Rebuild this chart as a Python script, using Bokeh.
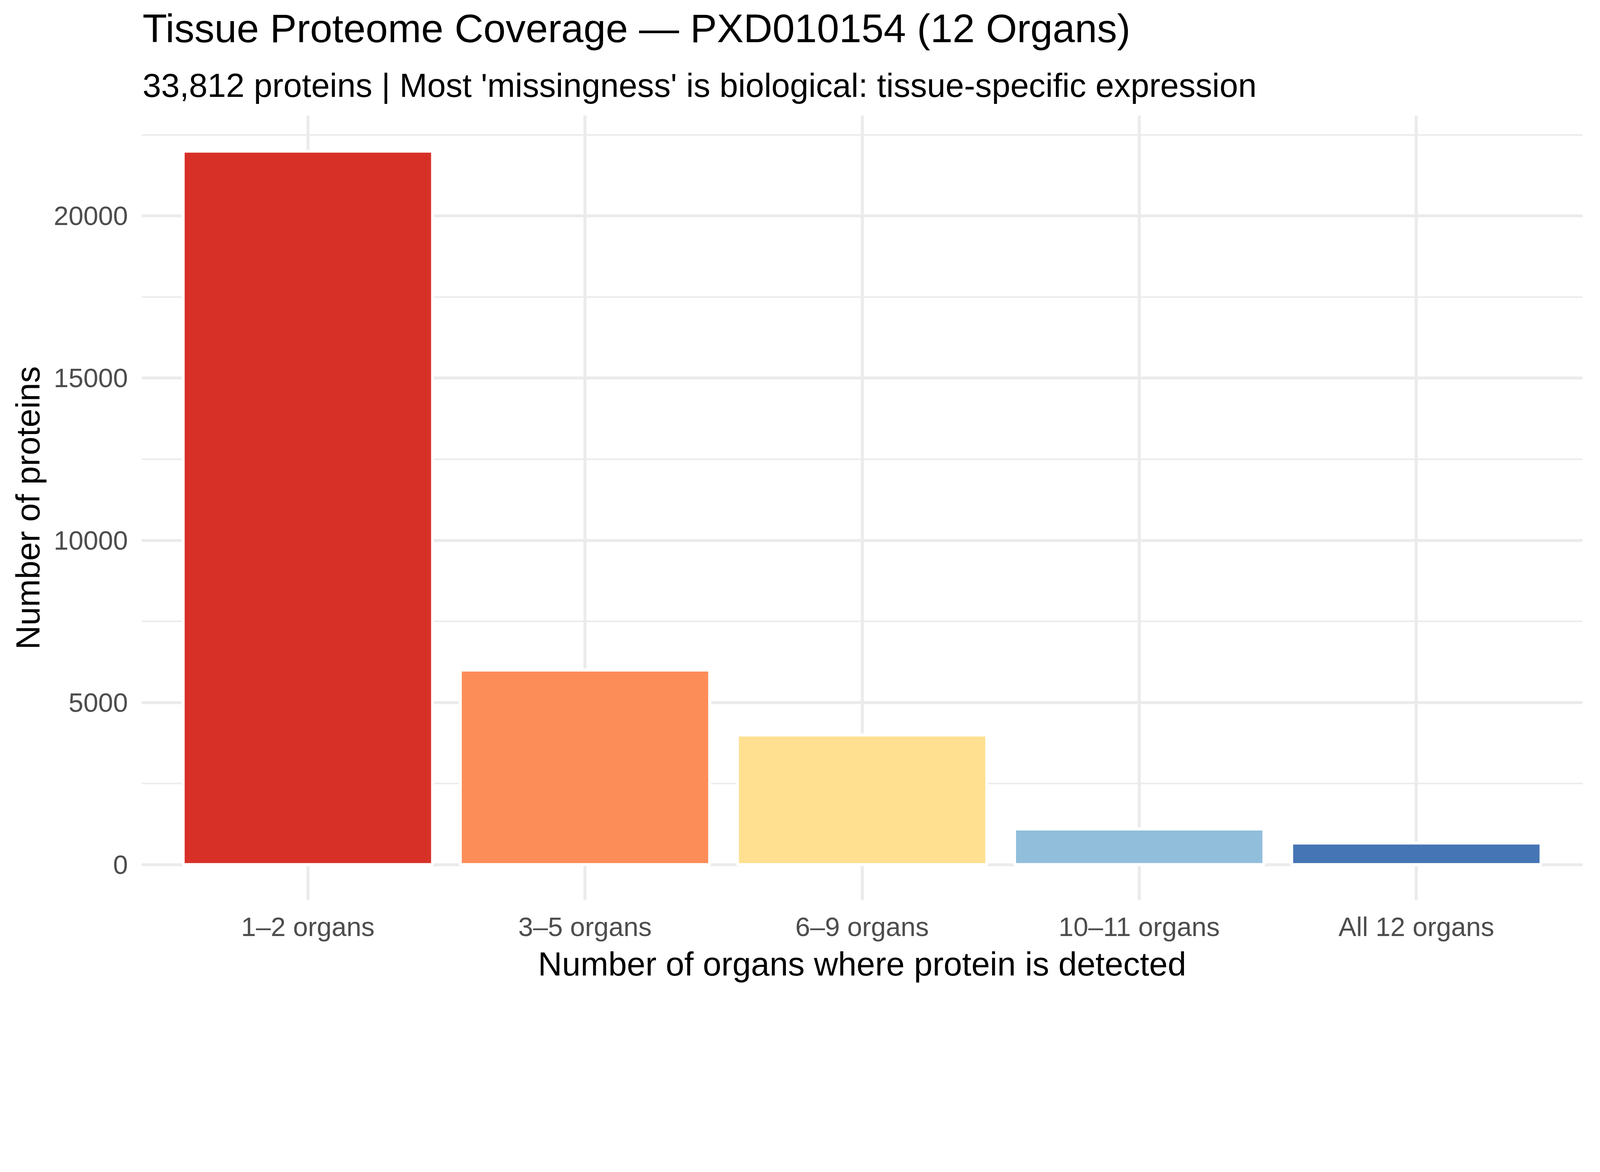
from bokeh.plotting import figure
from bokeh.models import Range1d, FactorRange, FixedTicker, Title, ColumnDataSource
from bokeh.embed import file_html
from bokeh.resources import INLINE

categories = ["1–2 organs", "3–5 organs", "6–9 organs", "10–11 organs", "All 12 organs"]
counts = [22000, 6000, 3995, 1100, 667]
colors = ["#D73027", "#FC8D59", "#FEE090", "#91BFDB", "#4575B4"]
y_major = [0, 5000, 10000, 15000, 20000]
y_minor = [2500, 7500, 12500, 17500, 22500]

title_text = "Tissue Proteome Coverage — PXD010154 (12 Organs)"
subtitle_text = "33,812 proteins | Most 'missingness' is biological: tissue-specific expression"
x_title = "Number of organs where protein is detected"
y_title = "Number of proteins"

FONT = "Liberation Sans"
S = 4096 / 4800  # CSS px per reference px


def px(v):
    return v * S


def fs(v):
    return f"{v * S:.1f}px"


src = ColumnDataSource(dict(cat=categories, n=counts, color=colors))

p = figure(
    width=4080, height=2544,
    x_range=FactorRange(factors=categories, range_padding=0.04),
    y_range=Range1d(-1100, 23100),
    output_backend="svg", toolbar_location=None, title=None,
    min_border_left=362, min_border_right=29, min_border_top=295, min_border_bottom=240,
)
p.background_fill_color = "white"
p.border_fill_color = "white"
p.outline_line_color = None

p.vbar(x="cat", top="n", bottom=0, width=0.9, source=src,
       fill_color="color", line_color="white", line_width=px(9))

# titles (subtitle nearest the frame)
sub = Title(text=subtitle_text, text_font=FONT, text_font_size=fs(100),
            text_font_style="normal", text_color="black", align="left",
            offset=px(3), standoff=px(68))
main = Title(text=title_text, text_font=FONT, text_font_size=fs(120),
             text_font_style="normal", text_color="black", align="left",
             offset=px(3), standoff=px(24))
p.add_layout(sub, "above")
p.add_layout(main, "above")

# axes
for ax in (p.xaxis[0], p.yaxis[0]):
    ax.axis_line_color = None
    ax.major_tick_line_color = None
    ax.minor_tick_line_color = None
    ax.major_tick_out = 0
    ax.major_tick_in = 0
    ax.major_label_text_font = FONT
    ax.major_label_text_font_size = fs(80)
    ax.major_label_text_color = "#4D4D4D"
    ax.axis_label_text_font = FONT
    ax.axis_label_text_font_size = fs(100)
    ax.axis_label_text_font_style = "normal"
    ax.axis_label_text_color = "black"

p.xaxis[0].axis_label = x_title
p.xaxis[0].major_label_standoff = round(px(34))
p.xaxis[0].axis_label_standoff = round(px(8))

p.yaxis[0].axis_label = y_title
p.yaxis[0].ticker = FixedTicker(ticks=y_major, minor_ticks=y_minor)
p.yaxis[0].major_label_standoff = round(px(36))
p.yaxis[0].axis_label_standoff = round(px(19))
p.yaxis[0].formatter.use_scientific = False

# grids
p.xgrid.grid_line_color = "#EBEBEB"
p.xgrid.grid_line_width = px(9)
p.ygrid.grid_line_color = "#EBEBEB"
p.ygrid.grid_line_width = px(9)
p.ygrid.minor_grid_line_color = "#EBEBEB"
p.ygrid.minor_grid_line_width = px(4.5)
p.ygrid.ticker = FixedTicker(ticks=y_major, minor_ticks=y_minor)

open("out.html", "w").write(file_html(p, INLINE))
